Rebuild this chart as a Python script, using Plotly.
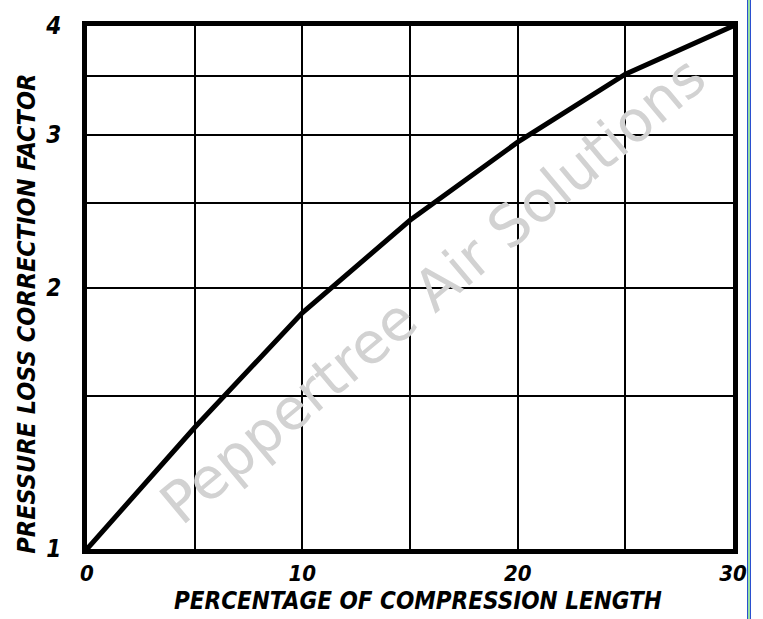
import plotly.graph_objects as go

# Data
compression_pct = [0, 5, 10, 15, 20, 25, 30]
correction_factor = [1.0, 1.38, 1.87, 2.39, 2.94, 3.52, 4.0]

x_tick_vals = [0, 5, 10, 15, 20, 25, 30]
x_tick_text = ["0", "", "10", "", "20", "", "30"]
y_tick_vals = [1, 1.5, 2, 2.5, 3, 3.5, 4]
y_tick_text = ["1", "", "2", "", "3", "", "4"]

x_title = "PERCENTAGE OF COMPRESSION LENGTH"
y_title = "PRESSURE LOSS CORRECTION FACTOR"
watermark = "Peppertree Air Solutions"

FONT = "DejaVu Sans Condensed, DejaVu Sans, sans-serif"
WM_FONT = "DejaVu Sans, sans-serif"

fig = go.Figure()
fig.add_trace(go.Scatter(
    x=compression_pct, y=correction_factor, mode="lines",
    line=dict(color="black", width=5), hoverinfo="skip", showlegend=False,
    cliponaxis=False,
))

axis_common = dict(
    showgrid=True, gridcolor="black", gridwidth=1.5,
    showline=True, linecolor="black", linewidth=5, mirror=True,
    zeroline=False, ticks="",
)

tick_font = dict(family=FONT, size=22, color="black", weight="bold", style="italic")

fig.update_layout(
    width=763, height=619,
    margin=dict(l=87, r=30, t=18, b=70),
    paper_bgcolor="white", plot_bgcolor="white",
    xaxis=dict(range=[0, 30], tickvals=x_tick_vals, ticktext=x_tick_text,
               ticklabelstandoff=1, tickfont=tick_font, **axis_common),
    yaxis=dict(type="log", range=[0, 0.60206], tickvals=y_tick_vals,
               ticktext=y_tick_text, ticklabelstandoff=16,
               tickfont=dict(tick_font, size=24), **axis_common),
    annotations=[
        dict(text=watermark, xref="paper", yref="paper", x=0.535, y=0.495,
             showarrow=False, textangle=-40,
             font=dict(family=WM_FONT, size=57, color="rgb(210,210,210)")),
        dict(text=x_title, xref="paper", yref="paper", x=0.512, y=0,
             yanchor="middle", yshift=-52, showarrow=False,
             font=dict(family=FONT, size=24, color="black", style="italic", weight="bold")),
        dict(text=y_title, xref="paper", yref="paper", x=0, y=0.45,
             xanchor="center", xshift=-60, textangle=-90, showarrow=False,
             font=dict(family=FONT, size=25, color="black", style="italic", weight="bold")),
    ],
    shapes=[
        dict(type="line", xref="paper", yref="paper", x0=1.02245, x1=1.02245, y0=-0.2, y1=1.1,
             line=dict(color="#2a4fd0", width=1)),
        dict(type="line", xref="paper", yref="paper", x0=1.02477, x1=1.02477, y0=-0.2, y1=1.1,
             line=dict(color="#30c040", width=1)),
        dict(type="line", xref="paper", yref="paper", x0=1.02709, x1=1.02709, y0=-0.2, y1=1.1,
             line=dict(color="#2a4fd0", width=1)),
    ],
)

fig.write_html("out.html", config={"displayModeBar": False},
               post_script="document.body.style.margin='0';")
